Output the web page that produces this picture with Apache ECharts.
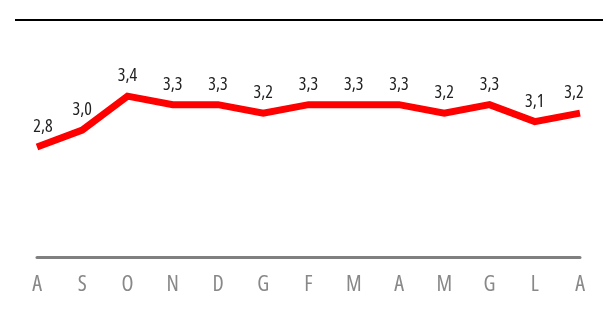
<!DOCTYPE html>
<html><head><meta charset="utf-8">
<script src="https://cdn.jsdelivr.net/npm/echarts@6/dist/echarts.min.js"></script>
<style>html,body{margin:0;padding:0;background:#fff}#c{width:610px;height:327px}</style>
</head><body><div id="c"></div>
<script>
const categories = ['A','S','O','N','D','G','F','M','A','M','G','L','A'];
const values = [2.8, 3.0, 3.4, 3.3, 3.3, 3.2, 3.3, 3.3, 3.3, 3.2, 3.3, 3.1, 3.2];
const FONT = '"Open Sans","Liberation Sans Narrow",sans-serif';
const chart = echarts.init(document.getElementById('c'), null, {renderer:'canvas'});
const last = values.length - 1;
const seriesData = values.map((v, i) => {
  const item = {value: v};
  if (i === 0) item.label = {offset: [6, 0]};
  if (i === last) item.label = {offset: [-6, 0]};
  return item;
});
chart.setOption({
  animation:false,
  grid:{left:37,right:30,top:20,bottom:70},
  graphic:[{type:'line',shape:{x1:15,y1:20,x2:603,y2:20},style:{stroke:'#000',lineWidth:2}}],
  xAxis:{type:'category',data:categories,boundaryGap:false,
    axisLine:{lineStyle:{color:'#808080',width:3}},
    axisTick:{show:false},
    axisLabel:{color:'#888',fontSize:22,fontWeight:'condensed',fontFamily:FONT,margin:17}},
  yAxis:{type:'value',min:1.5,max:4.3,show:false,splitLine:{show:false}},
  series:[{type:'line',data:seriesData,symbol:'circle',symbolSize:2,showSymbol:true,
    itemStyle:{color:'rgba(255,0,0,0)'},
    lineStyle:{color:'#ff0000',width:7,join:'miter'},
    label:{show:true,position:'top',distance:10,color:'#222',fontSize:18,fontWeight:'condensed',fontFamily:FONT,
      formatter:p=>p.value.toFixed(1).replace('.',',')}}]
});
</script></body></html>
